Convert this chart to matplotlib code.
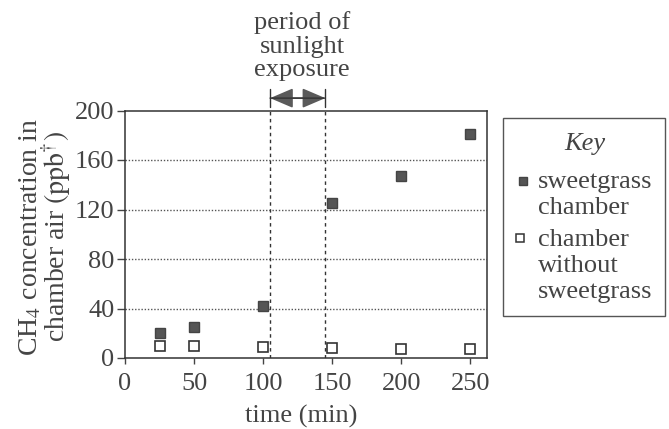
import matplotlib
matplotlib.use("Agg")
import matplotlib.pyplot as plt
from matplotlib.lines import Line2D
from matplotlib.patches import Rectangle

# data
time_min = [25, 50, 100, 150, 200, 250]
ch4_sweetgrass = [20, 25, 42, 125, 147, 181]
ch4_empty = [10, 10, 9, 8, 7, 7]
sun_start = 105
sun_stop = 145
y_ticks = [0, 40, 80, 120, 160, 200]
x_ticks = [0, 50, 100, 150, 200, 250]

ink = "#444444"
plt.rcParams["font.family"] = ["Liberation Serif", "DejaVu Serif"]
plt.rcParams["mathtext.fontset"] = "stix"
plt.rcParams["font.size"] = 19
plt.rcParams["text.color"] = ink

fig = plt.figure(figsize=(6.69, 4.29), dpi=100)
ax = fig.add_axes([125 / 669, 71 / 429, 362 / 669, 247.5 / 429])

ax.set_xlim(0, 262)
ax.set_ylim(0, 200)
ax.set_xticks(x_ticks)
ax.set_yticks(y_ticks)
ax.tick_params(axis="x", direction="out", length=4.5, width=1, pad=6, colors=ink)
ax.tick_params(axis="y", direction="out", length=6, width=1, pad=1.5, colors=ink)
for s in ax.spines.values():
    s.set_color("#333333")
    s.set_linewidth(1.1)

# dotted grid lines (not on the top border)
for yv in y_ticks[1:-1]:
    ax.axhline(yv, color="#555555", linestyle=(0, (1, 1.3)), linewidth=1, zorder=1)

# sunlight period
for xv in (sun_start, sun_stop):
    ax.axvline(xv, color="#333333", linestyle=(0, (2.5, 2.5)), linewidth=1, zorder=1)

ax.annotate("", xy=(sun_stop, 210), xytext=(sun_start, 210), xycoords="data",
            annotation_clip=False,
            arrowprops=dict(arrowstyle="<|-|>,head_length=0.75,head_width=0.32",
                            color="#5a5a5a", lw=1.2, shrinkA=0, shrinkB=0))
ax.annotate("", xy=(sun_stop, 210), xytext=(sun_start, 210), xycoords="data",
            annotation_clip=False,
            arrowprops=dict(arrowstyle="|-|,widthA=0.35,widthB=0.35",
                            color="#333333", lw=1, shrinkA=0, shrinkB=0))

# multi-line text with va="baseline" sits on its last line
fig.text(302 / 669, 1 - 76 / 429, "period of\nsunlight\nexposure",
         ha="center", va="baseline", linespacing=1.08)

ax.plot(time_min, ch4_sweetgrass, linestyle="none", marker="s", markersize=7.7,
        markerfacecolor="#555555", markeredgecolor="#444444", clip_on=False, zorder=3)
ax.plot(time_min, ch4_empty, linestyle="none", marker="s", markersize=6.6,
        markerfacecolor="white", markeredgecolor="#333333", markeredgewidth=1.2,
        clip_on=False, zorder=3)

fig.text(45.5 / 669, 1 - 237 / 429,
         "CH$_4$ concentration in\nchamber air $\\mathrm{(ppb^{\\dagger})}$",
         rotation=90, ha="center", va="center", linespacing=0.85, fontsize=20)
ax.set_xlabel("time (min)", color=ink)
ax.xaxis.set_label_coords(0.486, -0.19)

# key box
fig.add_artist(Rectangle((503 / 669, 1 - 316 / 429), 162 / 669, 198 / 429,
                         transform=fig.transFigure, fill=False,
                         edgecolor="#555555", linewidth=1))
fig.text(585 / 669, 1 - 150 / 429, "Key", style="italic", ha="center", va="baseline")
fig.add_artist(Line2D([523 / 669], [1 - 181 / 429], transform=fig.transFigure,
                      marker="s", markersize=5.2, linestyle="none",
                      markerfacecolor="#555555", markeredgecolor="#444444"))
fig.add_artist(Line2D([520 / 669], [1 - 238 / 429], transform=fig.transFigure,
                      marker="s", markersize=5.5, linestyle="none",
                      markerfacecolor="white", markeredgecolor="#333333",
                      markeredgewidth=1.1))
fig.text(538 / 669, 1 - 214 / 429, "sweetgrass\nchamber", ha="left", va="baseline",
         linespacing=1.25)
fig.text(538 / 669, 1 - 298 / 429, "chamber\nwithout\nsweetgrass", ha="left",
         va="baseline", linespacing=1.25)

fig.savefig("out.png", dpi=100)
